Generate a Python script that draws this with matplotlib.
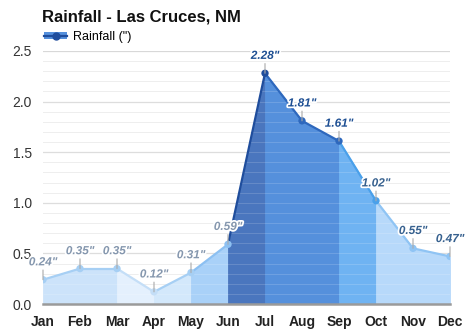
import matplotlib.pyplot as plt
import matplotlib.patheffects as pe
from matplotlib.lines import Line2D
from matplotlib.patches import Patch

plt.rcParams["font.family"] = ["Liberation Sans", "DejaVu Sans"]

months = ["Jan", "Feb", "Mar", "Apr", "May", "Jun",
          "Jul", "Aug", "Sep", "Oct", "Nov", "Dec"]
rainfall = [0.24, 0.35, 0.35, 0.12, 0.31, 0.59,
            2.28, 1.81, 1.61, 1.02, 0.55, 0.47]

# fill / line colour of each month-to-month segment
seg_fill = ["#cce3fa", "#cce3fa", "#e4f0fd", "#d3e8fb", "#a9d1f8", "#4a76be",
            "#5590dc", "#5590dc", "#6fb3f2", "#b7d9fa", "#b7d9fa"]
seg_line = ["#a6cff4", "#a6cff4", "#c4def7", "#a6cff4", "#8cc0f2", "#1f4d9c",
            "#2e68bd", "#2e68bd", "#4aa0ea", "#8fc4f4", "#8fc4f4"]
pt_color = ["#a6cff4", "#a6cff4", "#a6cff4", "#c4def7", "#a6cff4", "#8cc0f2",
            "#1f4d9c", "#2e68bd", "#2e68bd", "#4aa0ea", "#8fc4f4", "#8fc4f4"]
lbl_color = ["#8597ae"] * 6 + ["#1e4f93"] * 3 + ["#37618f"] * 3

fig = plt.figure(figsize=(4.74, 3.31), dpi=100)
ax = fig.add_axes([43 / 474, 27 / 331, 407 / 474, 253 / 331])

x = list(range(len(months)))

for i in range(len(months) - 1):
    xs = [x[i], x[i + 1]]
    ys = [rainfall[i], rainfall[i + 1]]
    ax.fill_between(xs, ys, 0, facecolor=seg_fill[i], edgecolor=seg_fill[i],
                    lw=0.6, zorder=2)
    ax.plot(xs, ys, color=seg_line[i], lw=1.6, zorder=3,
            solid_capstyle="round")

ax.scatter(x, rainfall, s=28, c=pt_color, zorder=4, lw=0)

for xi, v, c in zip(x, rainfall, lbl_color):
    ax.annotate("", xy=(xi, v), xytext=(0, 7), textcoords="offset points",
                arrowprops=dict(arrowstyle="-", color="#aaaaaa", lw=0.8,
                                shrinkA=0, shrinkB=0), zorder=5)
    ax.annotate(f'{v:.2f}"', xy=(xi, v), xytext=(0, 12.5),
                textcoords="offset points", ha="center", va="center",
                fontsize=8.5, fontweight="bold", fontstyle="italic", color=c,
                path_effects=[pe.withStroke(linewidth=2.5, foreground="white")],
                zorder=6)

ax.set_xlim(0, 11)
ax.set_ylim(0, 2.5)
ax.set_xticks(x)
ax.set_xticklabels(months, fontweight="bold", fontsize=10, color="#222222")
ax.set_yticks([0, 0.5, 1.0, 1.5, 2.0, 2.5])
ax.set_yticklabels(["0.0", "0.5", "1.0", "1.5", "2.0", "2.5"],
                   fontsize=10, color="#333333")
ax.set_yticks([i / 10 for i in range(26)], minor=True)
ax.tick_params(axis="both", length=0, pad=8)
ax.tick_params(axis="y", which="minor", length=0)
ax.grid(axis="y", which="major", color="#d8d8d8", lw=0.9, zorder=0)
ax.grid(axis="y", which="minor", color="#ececec", lw=0.7, zorder=0)
# faint lines that stay visible across the filled area
for yv in [i / 10 for i in range(1, 25)]:
    ax.axhline(yv, color="white", lw=0.6, alpha=0.18, zorder=2.5)
for side in ["top", "right", "left"]:
    ax.spines[side].set_visible(False)
ax.spines["bottom"].set_color("#9a9a9a")
ax.spines["bottom"].set_linewidth(1.8)
ax.spines["bottom"].set_zorder(7)

fig.text(42 / 474, 1 - 17 / 331, "Rainfall - Las Cruces, NM",
         fontsize=12, fontweight="bold", va="center", color="#111111")

handle = (Patch(facecolor="#5590dc", edgecolor="none"),
          Line2D([], [], color="#1f4d9c", lw=1.6, marker="o", markersize=5))
fig.legend([handle], ['Rainfall (")'], loc="center left",
           bbox_to_anchor=(33 / 474, 1 - 37 / 331), frameon=False,
           fontsize=9, handlelength=1.8, handleheight=0.5, handletextpad=0.5)

fig.savefig("out.png", dpi=100, facecolor="white")
